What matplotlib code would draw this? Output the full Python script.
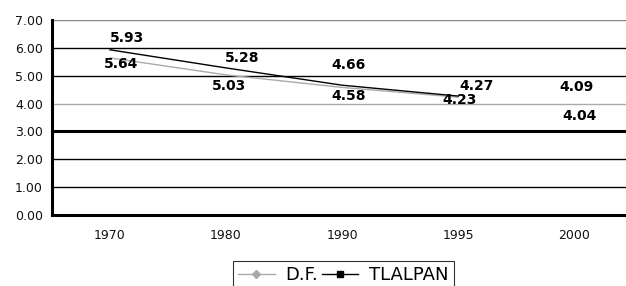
import matplotlib
matplotlib.use("Agg")
import matplotlib.pyplot as plt
from matplotlib.lines import Line2D

years = ["1970", "1980", "1990", "1995", "2000"]
df_vals = [5.64, 5.03, 4.58, 4.23, 4.04]
tlalpan_vals = [5.93, 5.28, 4.66, 4.27, 4.09]
series_names = ["D.F.", "TLALPAN"]
n_line_points = 4  # lines drawn only through 1995 in the original

# label offsets in pixels (styling)
tl_off = [(17, 12), (16, 10), (7, 20), (19, 10), (2, 14)]
df_off = [(11, -6), (3, -11), (7, -9), (2, -3), (6, -14)]

plt.rcParams['font.family'] = ['DejaVu Sans']

fig = plt.figure(figsize=(6.26, 2.86), dpi=100)
ax = fig.add_axes([52/626, 71/286, 580/626, 195/286])
x = list(range(len(years)))

ax.set_xlim(-0.5, len(years) - 0.5)
ax.set_ylim(0, 7)

grid_styles = {7: ("#888888", 1.0), 6: ("black", 1.0), 5: ("black", 1.0),
               4: ("#aaaaaa", 1.0), 3: ("black", 2.2), 2: ("black", 1.0),
               1: ("black", 1.0)}
for v, (c, lw) in grid_styles.items():
    ax.axhline(v, color=c, lw=lw, zorder=1)

for s in ["top", "right"]:
    ax.spines[s].set_visible(False)
ax.spines["left"].set_linewidth(2.2)
ax.spines["bottom"].set_linewidth(2.2)

ax.plot(x[:n_line_points], df_vals[:n_line_points], color="#aaaaaa", lw=1.0, zorder=2)
ax.plot(x[:n_line_points], tlalpan_vals[:n_line_points], color="black", lw=1.0, zorder=3)

for i, v in enumerate(tlalpan_vals):
    ax.annotate(f"{v:.2f}", (x[i], v), xytext=tl_off[i], textcoords="offset pixels",
                ha="center", va="center", fontsize=10, fontweight="bold", zorder=5)
for i, v in enumerate(df_vals):
    ax.annotate(f"{v:.2f}", (x[i], v), xytext=df_off[i], textcoords="offset pixels",
                ha="center", va="center", fontsize=10, fontweight="bold", zorder=5)

ax.set_xticks(x)
ax.set_xticklabels(years)
ax.set_yticks(range(0, 8))
ax.set_yticklabels([f"{v:.2f}" for v in range(0, 8)])
ax.tick_params(axis="both", length=0, labelsize=9, labelcolor="#111111")
ax.tick_params(axis="x", pad=10)
ax.tick_params(axis="y", pad=6.5)

handles = [Line2D([0], [0], color="#aaaaaa", lw=1, marker="D", markersize=4,
                  markerfacecolor="#aaaaaa", markeredgecolor="#aaaaaa"),
           Line2D([0], [0], color="black", lw=1, marker="s", markersize=5,
                  markerfacecolor="black")]
leg = fig.legend(handles, series_names, loc="upper left",
                 bbox_to_anchor=(233/626, 1 - 261/286), ncol=2, fontsize=13,
                 frameon=True, fancybox=False, edgecolor="black",
                 handlelength=2.0, columnspacing=0.2, handletextpad=0.6,
                 borderpad=0.3, borderaxespad=0)
leg.get_frame().set_linewidth(0.8)

fig.savefig("out.png", dpi=100)
